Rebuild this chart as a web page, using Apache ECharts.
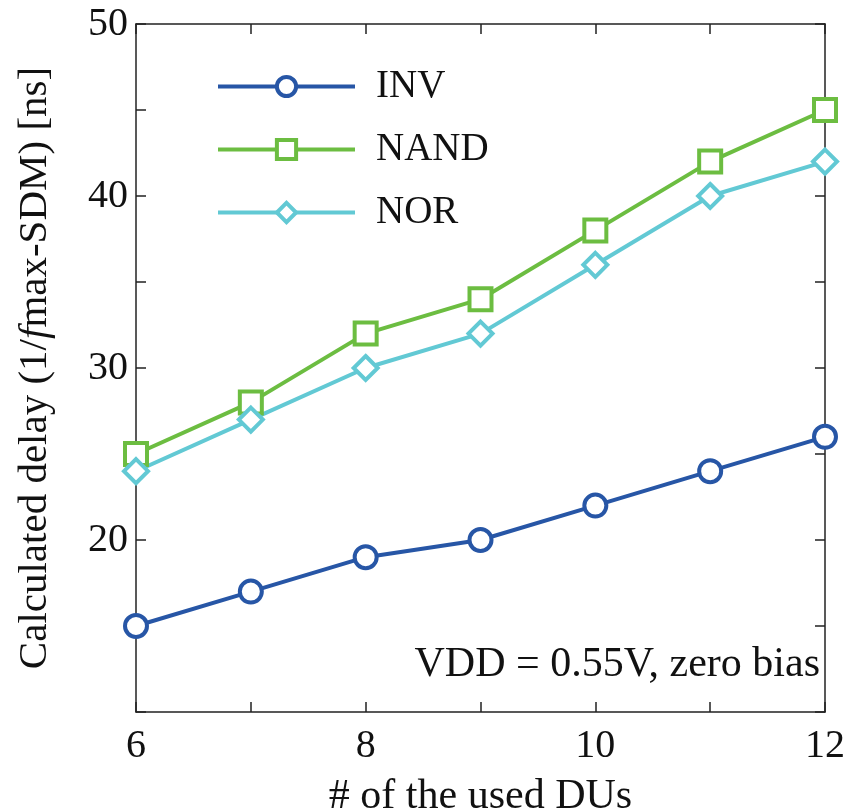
<!DOCTYPE html>
<html>
<head>
<meta charset="utf-8">
<script src="https://cdn.jsdelivr.net/npm/echarts@6/dist/echarts.min.js"></script>
<style>
  html, body { margin: 0; padding: 0; background: #fff; }
  #chart { width: 851px; height: 811px; }
</style>
</head>
<body>
<div id="chart"></div>
<script>
// number of used DUs
var duCounts = [6, 7, 8, 9, 10, 11, 12];
// calculated delay [ns]
var invDelay = [15, 17, 19, 20, 22, 24, 26];
var nandDelay = [25, 28, 32, 34, 38, 42, 45];
var norDelay = [24, 27, 30, 32, 36, 40, 42];
var xTickLabels = [6, 8, 10, 12];
var yTickLabels = [20, 30, 40, 50];

function pairs(ys) {
    return duCounts.map(function (x, i) { return [x, ys[i]]; });
}

var serif = 'Liberation Serif';
var axisCol = '#222';

var option = {
    animation: false,
    backgroundColor: '#fff',
    grid: { left: 136, right: 26, top: 24, bottom: 99, outerBoundsMode: 'none' },
    legend: {
        orient: 'vertical',
        left: 211,
        top: 62,
        itemWidth: 137,
        itemHeight: 24,
        itemGap: 24,
        lineStyle: { width: 4 },
        itemStyle: { borderWidth: 4 },
        textStyle: { fontFamily: serif, fontSize: 39, color: '#111', padding: [0, 0, 0, 16] },
        data: ['INV', 'NAND', 'NOR']
    },
    xAxis: [{
        type: 'value', min: 6, max: 12, interval: 1,
        name: '# of the used DUs', nameLocation: 'middle', nameGap: 64,
        nameTextStyle: { fontFamily: serif, fontSize: 42, color: '#111' },
        axisLine: { lineStyle: { color: axisCol, width: 1.5 } },
        axisTick: { inside: true, length: 10, lineStyle: { color: axisCol, width: 1.5 } },
        axisLabel: {
            margin: 14, fontFamily: serif, fontSize: 40, color: '#111',
            formatter: function (v) { return xTickLabels.indexOf(v) >= 0 ? v : ''; }
        },
        splitLine: { show: false }
    }, {
        type: 'value', min: 6, max: 12, interval: 1, position: 'top',
        axisLine: { show: true, lineStyle: { color: axisCol, width: 1.5 } },
        axisTick: { inside: true, length: 10, lineStyle: { color: axisCol, width: 1.5 } },
        axisLabel: { show: false },
        splitLine: { show: false }
    }],
    yAxis: [{
        type: 'value', min: 10, max: 50, interval: 5,
        name: 'Calculated delay (1/{i|f}max-SDM) [ns]', nameLocation: 'middle', nameGap: 80,
        nameTextStyle: {
            fontFamily: serif, fontSize: 41, color: '#111',
            rich: { i: { fontFamily: serif, fontSize: 41, fontStyle: 'italic', color: '#111' } }
        },
        axisLine: { show: true, lineStyle: { color: axisCol, width: 1.5 } },
        axisTick: { inside: true, length: 10, lineStyle: { color: axisCol, width: 1.5 } },
        axisLabel: {
            margin: 8, fontFamily: serif, fontSize: 40, color: '#111',
            formatter: function (v) { return yTickLabels.indexOf(v) >= 0 ? v : ''; }
        },
        splitLine: { show: false }
    }, {
        type: 'value', min: 10, max: 50, interval: 5, position: 'right',
        axisLine: { show: true, lineStyle: { color: axisCol, width: 1.5 } },
        axisTick: { inside: true, length: 10, lineStyle: { color: axisCol, width: 1.5 } },
        axisLabel: { show: false },
        splitLine: { show: false }
    }],
    graphic: [{
        type: 'text', right: 31, top: 644,
        style: { text: 'VDD = 0.55V, zero bias', fontFamily: serif, fontSize: 42, fill: '#111' }
    }],
    series: [{
        name: 'INV', type: 'line', data: pairs(invDelay),
        symbol: 'circle', symbolSize: 22,
        lineStyle: { color: '#2756a6', width: 4 },
        itemStyle: { color: '#fff', borderColor: '#2756a6', borderWidth: 4 }
    }, {
        name: 'NAND', type: 'line', data: pairs(nandDelay),
        symbol: 'rect', symbolSize: 22,
        lineStyle: { color: '#6cbd41', width: 4 },
        itemStyle: { color: '#fff', borderColor: '#6cbd41', borderWidth: 4 }
    }, {
        name: 'NOR', type: 'line', data: pairs(norDelay),
        symbol: 'diamond', symbolSize: 24,
        lineStyle: { color: '#62c9d4', width: 4 },
        itemStyle: { color: '#fff', borderColor: '#62c9d4', borderWidth: 4 }
    }]
};

var myChart = echarts.init(document.getElementById('chart'));
myChart.setOption(option);
</script>
</body>
</html>
